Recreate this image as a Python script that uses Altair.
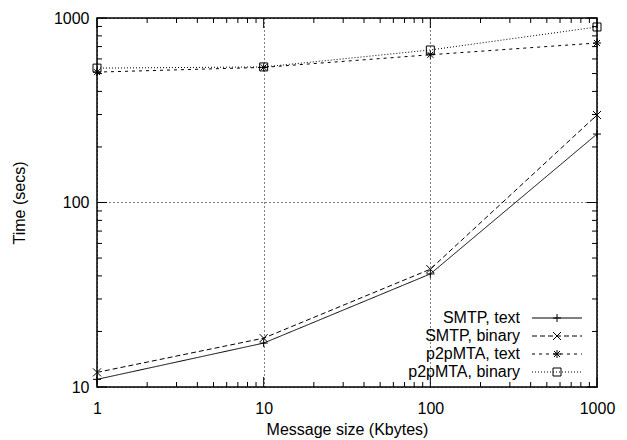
import altair as alt
import pandas as pd

# ---- data ----
sizes = [1, 10, 100, 1000]
series = ["SMTP, text", "SMTP, binary", "p2pMTA, text", "p2pMTA, binary"]
smtp_text = [11.0, 17.3, 41.0, 235.0]
smtp_binary = [12.0, 18.4, 43.5, 298.0]
p2p_text = [509.0, 540.0, 632.0, 732.0]
p2p_binary = [535.0, 543.0, 671.0, 894.0]

x_major = [1, 10, 100, 1000]
x_minor = [2, 3, 4, 5, 6, 7, 8, 9,
           20, 30, 40, 50, 60, 70, 80, 90,
           200, 300, 400, 500, 600, 700, 800, 900]
y_major = [10, 100, 1000]
y_minor = [20, 30, 40, 50, 60, 70, 80, 90,
           200, 300, 400, 500, 600, 700, 800, 900]

# ---- styles ----
dashes = [[1, 0], [5, 3], [3, 4], [1, 2]]
shapes = [
    "M-1,0H1M0,-1V1",
    "M-1,-1L1,1M-1,1L1,-1",
    "M-1,0H1M0,-1V1M-0.75,-0.75L0.75,0.75M-0.75,0.75L0.75,-0.75",
    "M-1,-1H1V1H-1Z",
]
FONT = "Liberation Sans"
W, H = 500, 369

rows = []
for name, vals in zip(series, [smtp_text, smtp_binary, p2p_text, p2p_binary]):
    for s, v in zip(sizes, vals):
        rows.append({"series": name, "size": s, "time": v})
df = pd.DataFrame(rows)

xs = alt.Scale(type="log", domain=[1, 1000], nice=False)
ys = alt.Scale(type="log", domain=[10, 1000], nice=False)
dash_scale = alt.Scale(domain=series, range=dashes)
shape_scale = alt.Scale(domain=series, range=shapes)

x_enc = alt.X(
    "size:Q", scale=xs,
    axis=alt.Axis(values=x_major, format="d", title="Message size (Kbytes)",
                  ticks=False, domain=False, grid=True, gridDash=[1, 3],
                  gridColor="black", gridWidth=1, labelPadding=13,
                  titlePadding=5, labelFlush=False),
)
y_enc = alt.Y(
    "time:Q", scale=ys,
    axis=alt.Axis(values=y_major, format="d", title="Time (secs)",
                  ticks=False, domain=False, grid=True, gridDash=[1, 3],
                  gridColor="black", gridWidth=1, labelPadding=8,
                  titlePadding=26, labelFlush=False),
)

lines = alt.Chart(df).mark_line(color="black", strokeWidth=1).encode(
    x=x_enc, y=y_enc,
    strokeDash=alt.StrokeDash("series:N", scale=dash_scale, legend=None),
)
points = alt.Chart(df).mark_point(
    filled=False, color="black", strokeWidth=1, size=64, opacity=1
).encode(
    x="size:Q", y="time:Q",
    shape=alt.Shape("series:N", scale=shape_scale, legend=None),
)

tick_layers = []
for vals, ln in [(y_major, 10), (y_minor, 5)]:
    d = pd.DataFrame({"time": vals})
    tick_layers.append(alt.Chart(d).mark_rule(color="black", strokeWidth=1).encode(
        y="time:Q", x=alt.value(0), x2=alt.value(ln)))
    tick_layers.append(alt.Chart(d).mark_rule(color="black", strokeWidth=1).encode(
        y="time:Q", x=alt.value(W - ln), x2=alt.value(W)))
for vals, ln in [(x_major, 10), (x_minor, 5)]:
    d = pd.DataFrame({"size": vals})
    tick_layers.append(alt.Chart(d).mark_rule(color="black", strokeWidth=1).encode(
        x="size:Q", y=alt.value(H), y2=alt.value(H - ln)))
    tick_layers.append(alt.Chart(d).mark_rule(color="black", strokeWidth=1).encode(
        x="size:Q", y=alt.value(0), y2=alt.value(ln)))

plot = alt.layer(lines, *tick_layers, points)

# ---- gnuplot-style key (label left of sample) ----
leg_df = pd.DataFrame({"series": series})
ly = alt.Y("series:N",
           scale=alt.Scale(type="point", domain=series, range=[300, 354], padding=0),
           axis=None, sort=series)
ltext = alt.Chart(leg_df).mark_text(
    align="right", baseline="middle", font=FONT, fontSize=16, color="black"
).encode(x=alt.value(423), y=ly, text="series:N")
lrule = alt.Chart(leg_df).mark_rule(color="black", strokeWidth=1).encode(
    x=alt.value(435), x2=alt.value(485), y=ly,
    strokeDash=alt.StrokeDash("series:N", legend=None))
lpoint = alt.Chart(leg_df).mark_point(
    filled=False, color="black", strokeWidth=1, size=64, opacity=1
).encode(x=alt.value(460), y=ly, shape=alt.Shape("series:N", legend=None))
legend = alt.layer(ltext, lrule, lpoint)

chart = alt.layer(plot, legend).resolve_scale(y="independent").properties(
    width=W, height=H,
    autosize=alt.AutoSizeParams(type="none"),
    padding={"left": 89, "top": 10, "right": 20, "bottom": 53},
).configure_axis(
    labelFont=FONT, titleFont=FONT, labelFontSize=16, titleFontSize=16,
    labelColor="black", titleColor="black", titleFontWeight="normal",
).configure_view(stroke="black", strokeWidth=1.5)

chart.save("out.html", embed_options={"renderer": "svg", "actions": False})
